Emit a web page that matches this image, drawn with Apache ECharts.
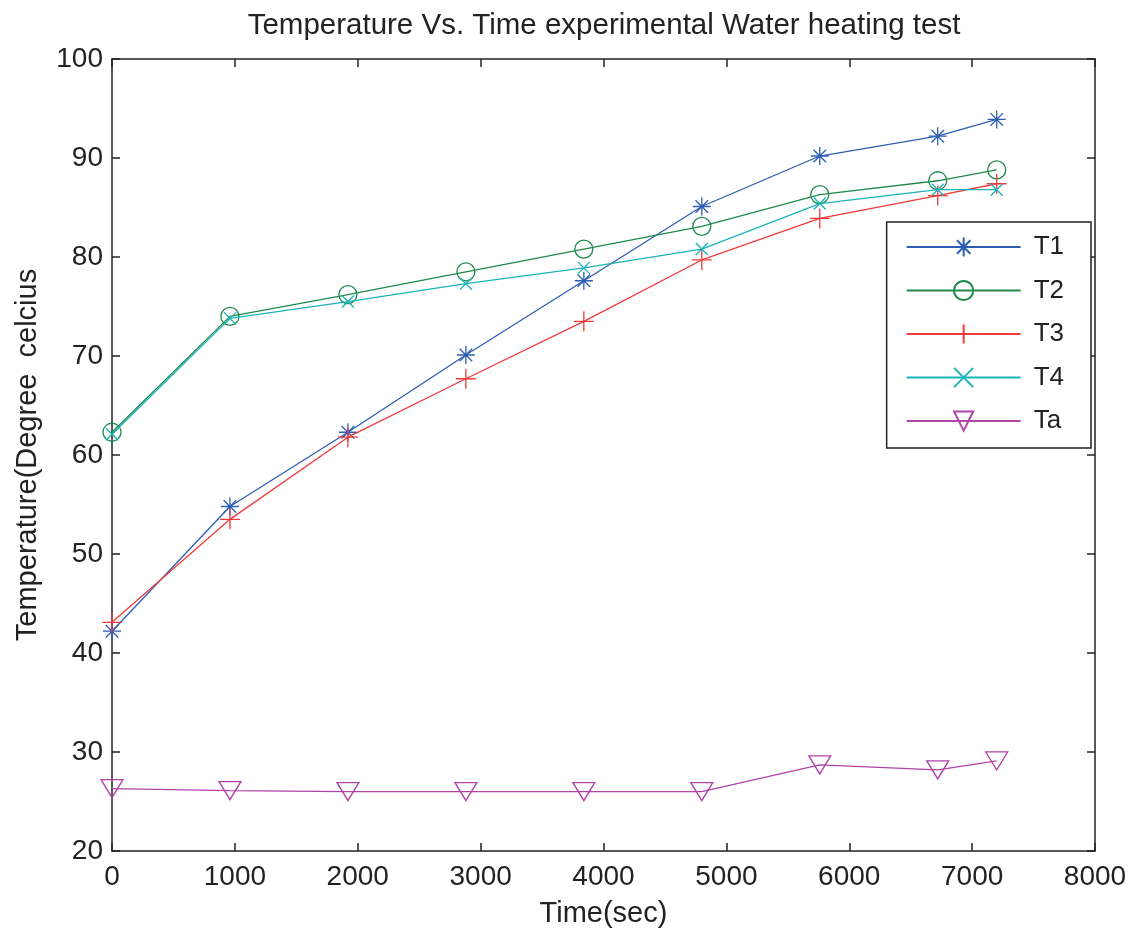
<!DOCTYPE html>
<html>
<head>
<meta charset="utf-8">
<script src="https://cdn.jsdelivr.net/npm/echarts@6/dist/echarts.min.js"></script>
<style>html,body{margin:0;padding:0;background:#fff;}#c{width:1134px;height:930px;}</style>
</head>
<body>
<div id="c"></div>
<script>
var times = [0, 960, 1920, 2880, 3840, 4800, 5760, 6720, 7200];
var T1 = [42.2, 54.8, 62.3, 70.1, 77.6, 85.1, 90.2, 92.2, 93.9];
var T2 = [62.3, 74.0, 76.2, 78.5, 80.8, 83.1, 86.3, 87.7, 88.8];
var T3 = [43.1, 53.5, 61.8, 67.7, 73.5, 79.7, 83.9, 86.2, 87.4];
var T4 = [62.1, 73.8, 75.5, 77.3, 78.9, 80.8, 85.4, 86.8, 86.8];
var Ta = [26.3, 26.1, 26.0, 26.0, 26.0, 26.0, 28.7, 28.2, 29.1];
var seriesNames = ['T1', 'T2', 'T3', 'T4', 'Ta'];
var xTicks = [0, 1000, 2000, 3000, 4000, 5000, 6000, 7000, 8000];
var yTicks = [20, 30, 40, 50, 60, 70, 80, 90, 100];

var FONT = 'Liberation Sans, Arial, Helvetica, sans-serif';
var colors = ['#2c5fb3', '#1f8a4c', '#f03a3a', '#1ab4b8', '#b043a8'];
var symbols = [
  'path://M10,0L10,20M0,10L20,10M3,3L17,17M17,3L3,17',
  'circle',
  'path://M10,0L10,20M0,10L20,10',
  'path://M0,0L12,12M12,0L0,12',
  'path://M0,0L22,0L11,18Z'
];
var sizes = [[18, 18], 18, [20, 20], [12, 12], [22, 18]];
var vals = [T1, T2, T3, T4, Ta];

function pairs(v) { return times.map(function (t, i) { return [t, v[i]]; }); }

var series = seriesNames.map(function (n, k) {
  return {
    name: n,
    type: 'line',
    xAxisIndex: 0,
    yAxisIndex: 0,
    data: pairs(vals[k]),
    symbol: symbols[k],
    symbolSize: sizes[k],
    showAllSymbol: true,
    color: colors[k],
    lineStyle: { color: colors[k], width: 1.3 },
    itemStyle: { color: 'rgba(0,0,0,0)', borderColor: colors[k], borderWidth: 1.3 },
    emphasis: { disabled: true },
    animation: false,
    z: 2 + k
  };
});

function axisCommon(pos, showLabel) {
  return {
    type: 'value',
    position: pos,
    axisLine: { show: true, onZero: false, lineStyle: { color: '#222', width: 1.5 } },
    axisTick: { show: true, inside: true, length: 8, lineStyle: { color: '#222', width: 1.5 } },
    splitLine: { show: false },
    axisLabel: { show: showLabel, fontSize: 28, color: '#222', fontFamily: FONT, margin: 9,
      formatter: function (v) { return String(v); } }
  };
}

var xa0 = axisCommon('bottom', true);
xa0.min = xTicks[0]; xa0.max = xTicks[xTicks.length - 1]; xa0.interval = 1000;
xa0.name = 'Time(sec)'; xa0.nameLocation = 'middle'; xa0.nameGap = 48;
xa0.nameTextStyle = { fontSize: 29, color: '#222', fontFamily: FONT };
xa0.axisLabel.margin = 12;
var xa1 = axisCommon('top', false);
xa1.min = xTicks[0]; xa1.max = xTicks[xTicks.length - 1]; xa1.interval = 1000;

var ya0 = axisCommon('left', true);
ya0.min = yTicks[0]; ya0.max = yTicks[yTicks.length - 1]; ya0.interval = 10;
ya0.name = 'Temperature(Degree  celcius'; ya0.nameLocation = 'middle'; ya0.nameGap = 70;
ya0.nameTextStyle = { fontSize: 29, color: '#222', fontFamily: FONT };
var ya1 = axisCommon('right', false);
ya1.min = yTicks[0]; ya1.max = yTicks[yTicks.length - 1]; ya1.interval = 10;

var chart = echarts.init(document.getElementById('c'), null, { renderer: 'canvas' });
chart.setOption({
  backgroundColor: '#fff',
  animation: false,
  title: {
    text: 'Temperature Vs. Time experimental Water heating test',
    left: 599, top: 6, textAlign: 'center',
    textStyle: { fontSize: 29.5, fontWeight: 'normal', color: '#222', fontFamily: FONT }
  },
  grid: { left: 112, right: 39, top: 59, bottom: 79, containLabel: false, outerBoundsMode: 'none' },
  xAxis: [xa0, xa1],
  yAxis: [ya0, ya1],
  legend: {
    data: seriesNames,
    orient: 'vertical',
    right: 43, top: 222,
    itemWidth: 114, itemHeight: 24, itemGap: 17.5,
    padding: [12, 27, 14, 19],
    backgroundColor: '#fff',
    borderColor: '#222', borderWidth: 1.5,
    borderRadius: 0,
    selectedMode: false,
    textStyle: { fontSize: 26, color: '#222', fontFamily: FONT, padding: [0, 0, 0, 8], lineHeight: 24 }
  },
  series: series
});
</script>
</body>
</html>
